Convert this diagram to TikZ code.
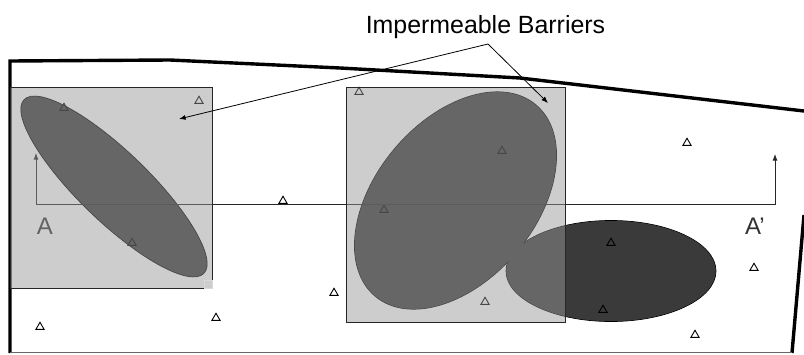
\documentclass[tikz,border=0pt]{standalone}
\usepackage{fontspec}
\setmainfont{Liberation Sans}
\usetikzlibrary{arrows.meta,positioning,shapes.geometric}
\definecolor{barriergray}{HTML}{3A3A3A}
\tikzset{
  wall/.style={line width=3.4pt,line join=miter},
  tri/.style={draw,regular polygon,regular polygon sides=3,minimum size=9.5pt,inner sep=0pt,line width=.9pt},
  barrier/.style={ellipse,draw=black,line width=.7pt,fill=barriergray,inner sep=0pt},
  barrierfill/.style={ellipse,fill=barriergray,inner sep=0pt},
  screen/.style={rectangle,fill=black!41,fill opacity=.48,draw=black!85,line width=.9pt,inner sep=0pt}
}
\begin{document}
\begin{tikzpicture}[x=1pt,y=-1pt,>=Latex]
\useasboundingbox (0,0) rectangle (804,354);
% outline of the area
\draw[wall] (10,353)--(10,61)--(170,60)--(340,68)--(520,78)--(804,111);
\draw[wall] (804,215)--(792,353);
\draw[black!60,line width=.8pt] (10,352.7)--(792,352.7);
% barriers
\node[barrier,minimum width=250pt,minimum height=70pt,rotate=-44] (lens) at (114,186.5) {};
\node[barrier,minimum width=250pt,minimum height=160pt,rotate=50] (bigbody) at (455.5,200.5) {};
\node[barrier,minimum width=210pt,minimum height=101pt] (lobe) at (611,271) {};
\node[barrierfill,minimum width=249pt,minimum height=159pt,rotate=50] (bigfill) at (455.5,200.5) {};
\node[barrierfill,minimum width=209pt,minimum height=100pt] (lobefill) at (611,271) {};
% wells
\foreach \i/\px/\py in {1/64/108,2/199/101,3/283/201,4/384/210,5/132/243,6/359/92,7/502/151,8/687/143,9/611/243,10/754/268,11/334/293,12/485/302,13/603/310,14/216/318,15/40/327,16/695/335}
  \node[tri] (well\i) at (\px,\py) {};
% section line
\coordinate (tipA) at (36,153);
\coordinate (bendA) at (36,204);
\coordinate (bendB) at (775,204);
\coordinate (tipB) at (775,154);
\draw[<->,black!85,line width=.8pt] (tipA)--(bendA)--(bendB)--(tipB);
\node[font=\fontsize{24}{28}\selectfont,text=black!80] (labA) at (45,226) {A};
\node[font=\fontsize{24}{28}\selectfont,text=black!80] (labB) at (755,226) {A'};
% gray squares
\node[screen,minimum width=202pt,minimum height=201pt] (sqL) at (111,187.5) {};
\node[screen,minimum width=219pt,minimum height=235pt] (sqR) at (455.5,204.5) {};
\node[draw=black!15,line width=.7pt,minimum size=8pt,inner sep=0pt] (corner) at (208,284) {};
% label and leaders
\node[font=\fontsize{24.9}{28}\selectfont] (title) at (485.5,27) {Impermeable Barriers};
\coordinate (apex) at (488,44);
\draw[->,line width=.8pt] (apex)--(179,119);
\draw[->,line width=.8pt] (apex)--(548,103);
\end{tikzpicture}
\end{document}
